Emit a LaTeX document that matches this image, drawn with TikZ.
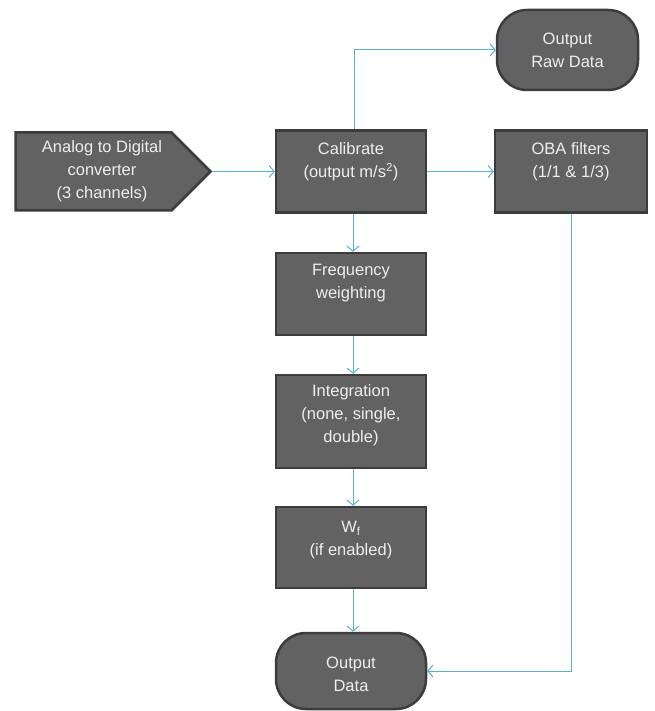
\documentclass[tikz,border=0pt]{standalone}
\usepackage{fontspec}
\setmainfont{Liberation Sans}
\usetikzlibrary{shapes.symbols,arrows.meta}
\definecolor{boxfill}{HTML}{626262}
\definecolor{boxline}{HTML}{3C3C3C}
\definecolor{txtcol}{HTML}{EEEEEE}
\definecolor{linkcol}{HTML}{55B3D0}
\begin{document}
\begin{tikzpicture}[x=1pt,y=-1pt,
  box/.style={draw=boxline, fill=boxfill, line width=2.5pt, minimum width=150pt, minimum height=82pt, inner sep=0pt},
  term/.style={box, rounded corners=30pt},
  txt/.style={text=txtcol, align=center, inner sep=0pt, font=\fontsize{16.5}{23}\selectfont},
  link/.style={draw=linkcol, line width=1pt, -{Straight Barb[length=5pt,width=12pt]}}]
\useasboundingbox[fill=white] (0,0) rectangle (654,711);

\node[box, shape=signal, signal to=east, signal pointer angle=90, minimum width=195pt, minimum height=78pt] (adc) at (93.5,171.5) {};
\node[txt] (adct) at (102,171.5) {Analog to Digital\\converter\\(3 channels)};

\node[box] (cal) at (351,171.5) {};
\node[txt] (calt) at (351,162) {Calibrate\\(output m/s\textsuperscript{2})};

\node[term, minimum width=141pt, minimum height=80pt] (raw) at (567.5,50) {};
\node[txt] (rawt) at (567.5,50) {Output\\Raw Data};

\node[box, minimum width=152pt] (oba) at (571,171.5) {};
\node[txt] (obat) at (571,162) {OBA filters\\(1/1 \& 1/3)};

\node[box] (freq) at (351,294) {};
\node[txt] (freqt) at (351,283) {Frequency\\weighting};

\node[box, minimum height=93pt] (integ) at (351,421.5) {};
\node[txt] (integt) at (351,415) {Integration\\(none, single,\\double)};

\node[box, minimum height=81pt] (wf) at (351,547.5) {};
\node[txt] (wft) at (351,540) {W\textsubscript{f}\\(if enabled)};

\node[term, minimum height=76pt] (out) at (351,671) {};
\node[txt] (outt) at (351,674) {Output\\Data};

\draw[link] (adc.east) -- (adc.east -| cal.west);
\draw[link] ([xshift=3pt]cal.north) |- (raw.west);
\draw[link] (cal.east) -- (cal.east -| oba.west);
\draw[link] ([xshift=2pt]cal.south) -- ([xshift=2pt]freq.north);
\draw[link] ([xshift=2pt]freq.south) -- ([xshift=2pt]integ.north);
\draw[link] ([xshift=2pt]integ.south) -- ([xshift=2pt]wf.north);
\draw[link] ([xshift=2pt]wf.south) -- ([xshift=2pt]out.north);
\draw[link] (oba.south) |- (out.east);
\end{tikzpicture}
\end{document}
